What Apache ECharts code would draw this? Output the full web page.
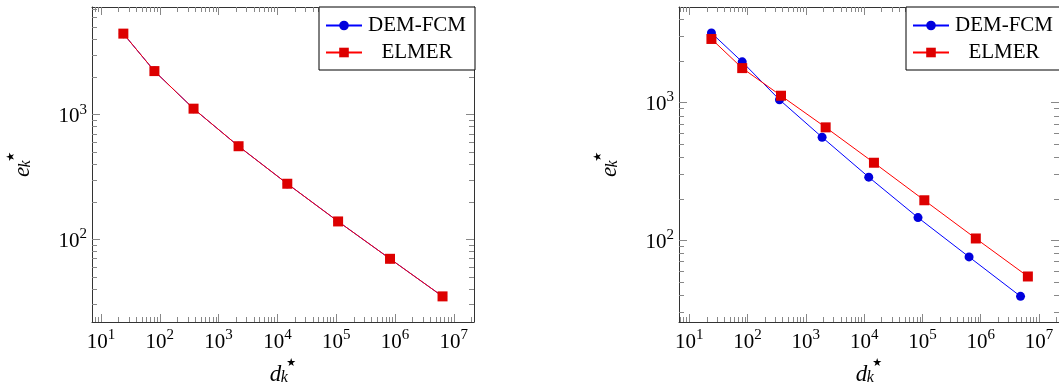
<!DOCTYPE html>
<html><head><meta charset="utf-8">
<script src="https://cdn.jsdelivr.net/npm/echarts@6/dist/echarts.min.js"></script>
<style>html,body{margin:0;padding:0;background:#fff}#c{width:1059px;height:391px}</style>
</head><body><div id="c"></div><script>
// ---------------- data ----------------
const seriesNames = ['DEM-FCM', 'ELMER'];
// left panel (both methods coincide)
const leftDofsDem   = [24, 81, 375, 2187, 14739, 107811, 823875, 6440067];
const leftErrDem    = [4470, 2237, 1117, 558, 279, 139, 69.7, 34.8];
const leftDofsElmer = [24, 81, 375, 2187, 14739, 107811, 823875, 6440067];
const leftErrElmer  = [4470, 2237, 1117, 558, 279, 139, 69.7, 34.8];
// right panel
const rightDofsDem   = [24, 81, 353, 1900, 12000, 84000, 631000, 4820000];
const rightErrDem    = [3190, 1968, 1046, 559, 287, 146, 75.7, 39.2];
const rightDofsElmer = [24, 81, 375, 2187, 14739, 107811, 823875, 6440067];
const rightErrElmer  = [2885, 1773, 1118, 659, 365, 195, 103, 54.6];
// tick labels
const xMajorTicks = [10, 100, 1000, 10000, 100000, 1000000, 10000000];
const yMajorTicks = [100, 1000];

function minorTicks(fromExp, toExp) {
  const out = [];
  for (let e = fromExp; e <= toExp; e++) for (let m = 2; m <= 9; m++) out.push(+(m * Math.pow(10, e)).toPrecision(6));
  return out;
}
const xMinorTicks = minorTicks(0, 7);
const yMinorTicks = minorTicks(1, 3);

// ---------------- styling ----------------
const FONT = 'Liberation Serif';
const FRAME = '#333';
const TICK = '#888';
const richTick = {
  b: {fontFamily: FONT, fontSize: 21, lineHeight: 25, verticalAlign: 'bottom', color: '#000'},
  s: {fontFamily: FONT, fontSize: 15, lineHeight: 15, verticalAlign: 'top', color: '#000'}
};
function powLabel(v) { return '{b|10}{s|' + Math.round(Math.log10(v)) + '}'; }
const richName = {
  i: {fontFamily: FONT, fontStyle: 'italic', fontSize: 23, lineHeight: 28, verticalAlign: 'bottom', color: '#000'},
  g: {fontFamily: FONT, fontSize: 4, lineHeight: 13, width: 2, verticalAlign: 'bottom'},
  k: {fontFamily: FONT, fontStyle: 'italic', fontSize: 16, lineHeight: 13, verticalAlign: 'bottom', color: '#000', width: 2},
  s: {fontFamily: 'DejaVu Sans', fontSize: 11, lineHeight: 13, verticalAlign: 'top', color: '#000', padding: [0, 0, 0, 1]}
};

function makeAxes(dim, grid, min, max, major, minor, name, nameGap, labelMargin) {
  const pos = dim === 'x' ? ['bottom', 'top'] : ['left', 'right'];
  const common = {type: 'log', logBase: 10, gridIndex: grid, min: min, max: max,
    splitLine: {show: false}, minorTick: {show: false}, minorSplitLine: {show: false}, axisPointer: {show: false}};
  const line = {show: true, onZero: false, lineStyle: {color: FRAME, width: 1}};
  const majTick = {show: true, inside: true, length: 8, customValues: major, lineStyle: {color: TICK, width: 1}};
  const minTick = {show: true, inside: true, length: 5, customValues: minor, lineStyle: {color: TICK, width: 1}};
  return [
    Object.assign({}, common, {position: pos[0], axisLine: line, axisTick: majTick,
      axisLabel: {show: true, customValues: major, formatter: powLabel, rich: richTick, margin: labelMargin},
      name: name, nameLocation: 'middle', nameGap: nameGap, nameRotate: dim === 'y' ? 90 : 0,
      nameTextStyle: {rich: richName}}),
    Object.assign({}, common, {position: pos[1], axisLine: line, axisTick: majTick, axisLabel: {show: false}}),
    Object.assign({}, common, {position: pos[0], axisLine: {show: false}, axisTick: minTick, axisLabel: {show: false}}),
    Object.assign({}, common, {position: pos[1], axisLine: {show: false}, axisTick: minTick, axisLabel: {show: false}})
  ];
}

function lineSeries(name, xi, yi, xs, ys) {
  const dem = name === seriesNames[0];
  return {type: 'line', name: name, xAxisIndex: xi, yAxisIndex: yi,
    data: xs.map((x, i) => [x, ys[i]]),
    symbol: dem ? 'circle' : 'rect', symbolSize: dem ? 9 : 10, showSymbol: true,
    lineStyle: {width: 1, color: dem ? '#0000ff' : '#ff0000'},
    itemStyle: {color: dem ? '#0000dd' : '#dd0000'},
    z: dem ? 2 : 3, emphasis: {disabled: true}, animation: false};
}

function legendAt(left) {
  return {left: left, top: 7, orient: 'vertical', data: seriesNames, itemWidth: 36, itemHeight: 12, itemGap: 6,
    padding: [8, 8, 7, 6], borderColor: '#000', borderWidth: 1, borderRadius: 0, backgroundColor: '#fff',
    selectedMode: false, formatter: n => '{a|' + n + '}',
    textStyle: {fontFamily: FONT, fontSize: 21, color: '#000',
      rich: {a: {width: 100, align: 'center', fontFamily: FONT, fontSize: 21, lineHeight: 22, color: '#000'}}}};
}

const P = v => Math.pow(10, v);
const nameX = '{i|d}{g| }{k|k}{s|★}';
const nameY = '{i|e}{g| }{k|k}{s|★}';

const option = {
  animation: false,
  backgroundColor: '#fff',
  grid: [
    {left: 92, top: 7, width: 382, height: 316},
    {left: 679, top: 7, width: 382, height: 316}
  ],
  xAxis: [].concat(
    makeAxes('x', 0, P(0.847), P(7.344), xMajorTicks, xMinorTicks, nameX, 36, 6),
    makeAxes('x', 1, P(0.824), P(7.343), xMajorTicks, xMinorTicks, nameX, 36, 6)
  ),
  yAxis: [].concat(
    makeAxes('y', 0, P(1.336), P(3.864), yMajorTicks, yMinorTicks, nameY, 58, 5),
    makeAxes('y', 1, P(1.407), P(3.692), yMajorTicks, yMinorTicks, nameY, 58, 5)
  ),
  legend: [legendAt(319), legendAt(906)],
  series: [
    lineSeries(seriesNames[0], 0, 0, leftDofsDem, leftErrDem),
    lineSeries(seriesNames[1], 0, 0, leftDofsElmer, leftErrElmer),
    lineSeries(seriesNames[0], 4, 4, rightDofsDem, rightErrDem),
    lineSeries(seriesNames[1], 4, 4, rightDofsElmer, rightErrElmer)
  ]
};
const chart = echarts.init(document.getElementById('c'), null, {renderer: 'canvas'});
chart.setOption(option);
</script></body></html>
